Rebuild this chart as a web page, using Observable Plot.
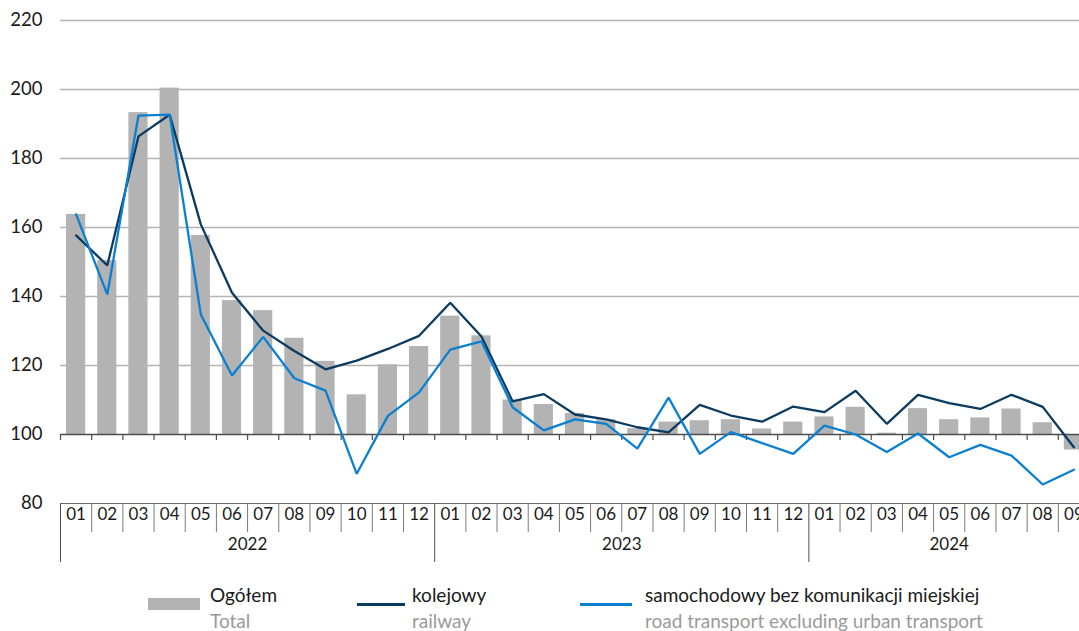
<!DOCTYPE html>
<html>
<head>
<meta charset="utf-8">
<script src="https://cdn.jsdelivr.net/npm/d3@7"></script>
<script src="https://cdn.jsdelivr.net/npm/@observablehq/plot@0.6"></script>
<style>
  html, body { margin: 0; padding: 0; background: #fff; overflow: hidden; width: 1079px; height: 631px; }
  body { font-family: Lato, "Noto Sans", sans-serif; position: relative; }
  #chart { position: absolute; left: 0; top: 0; width: 1090px; }
  #chart svg { max-width: none !important; }
  .lg { position: absolute; color: #1a1a1a; font-size: 19px; line-height: 1; white-space: nowrap; }
  .lg .en { color: #9a9a9a; display: block; margin-top: 7px; }
  .sw { position: absolute; }
</style>
</head>
<body>
<div id="chart"></div>
<div class="sw" style="left:148px; top:598px; width:52px; height:12px; background:#b3b3b3;"></div>
<div class="lg" style="left:210px; top:585px;">Ogółem<span class="en">Total</span></div>
<div class="sw" style="left:357px; top:603px; width:48px; height:2.5px; background:#0b3b60;"></div>
<div class="lg" style="left:412px; top:585px;">kolejowy<span class="en">railway</span></div>
<div class="sw" style="left:580px; top:603px; width:52px; height:2.5px; background:#0b7fd0;"></div>
<div class="lg" style="left:645px; top:585px;">samochodowy bez komunikacji miejskiej<span class="en">road transport excluding urban transport</span></div>
<script>
// Month labels (2022-01 .. 2024-09)
const monthLabels = ["01","02","03","04","05","06","07","08","09","10","11","12",
                     "01","02","03","04","05","06","07","08","09","10","11","12",
                     "01","02","03","04","05","06","07","08","09"];
const yearLabels = ["2022", "2023", "2024"];
const yearMonthCounts = [12, 12, 9];

// Ogółem / Total (bars, relative to 100)
const total = [163.8,150.4,193.3,200.4,157.7,138.8,135.9,127.9,121.2,111.5,120.2,125.5,
               134.3,128.6,110.0,108.7,106.1,104.3,101.7,103.6,104.0,104.3,101.6,103.6,
               105.1,107.9,100.4,107.5,104.3,104.8,107.4,103.4,95.5];
// kolejowy / railway
const railway = [157.7,149.0,186.4,192.7,160.9,141.1,130.1,124.2,118.9,121.4,124.8,128.6,
                 138.2,128.4,109.6,111.7,105.8,104.4,102.1,100.6,108.6,105.5,103.7,108.1,
                 106.5,112.7,103.1,111.5,109.1,107.4,111.5,108.0,96.3];
// samochodowy bez komunikacji miejskiej / road transport excluding urban transport
const road = [163.8,140.6,192.4,192.7,134.8,117.1,128.3,116.3,112.7,88.6,105.4,112.2,
              124.6,127.0,107.9,101.2,104.4,103.1,95.9,110.7,94.4,100.7,97.5,94.4,
              102.6,100.0,94.9,100.3,93.4,97.0,93.9,85.5,89.8];

const yTicks = [80, 100, 120, 140, 160, 180, 200, 220];
const baseline = 100;

const data = monthLabels.map((m, i) => ({i, month: m, total: total[i], railway: railway[i], road: road[i]}));
const n = monthLabels.length;

// year boundaries and centers
const yearStarts = [];
let acc = 0;
for (const c of yearMonthCounts) { yearStarts.push(acc); acc += c; }
const yearData = yearLabels.map((y, k) => ({label: y, start: yearStarts[k], center: yearStarts[k] + yearMonthCounts[k] / 2}));
const boundaries = d3.range(0, n + 1);
const monthSeps = boundaries.filter(b => !yearStarts.includes(b));

const chart = Plot.plot({
  width: 1090,
  height: 565,
  marginLeft: 60,
  marginRight: 1,
  marginTop: 20,
  marginBottom: 62,
  style: {fontFamily: "Lato, 'Noto Sans', sans-serif", color: "#1a1a1a", background: "transparent", maxWidth: "none"},
  x: {type: "linear", domain: [0, n], axis: null},
  y: {domain: [80, 220], axis: null},
  marks: [
    Plot.ruleY(yTicks.filter(t => t > baseline), {stroke: "#b4b4b4", strokeWidth: 1.5}),
    Plot.axisY(yTicks, {tickSize: 0, tickPadding: 18, fontSize: 18.5, fill: "#1a1a1a", textAnchor: "end"}),
    Plot.rectY(data, {x1: "i", x2: d => d.i + 1, y1: () => baseline, y2: "total", fill: "#b3b3b3", insetLeft: 6, insetRight: 6}),
    Plot.ruleY([baseline], {stroke: "#4d4d4d", strokeWidth: 1.5}),
    Plot.ruleX(boundaries, {x: d => d, y1: () => baseline, y2: () => baseline, insetBottom: -6, stroke: "#4d4d4d", strokeWidth: 1.2}),
    Plot.line(data, {x: d => d.i + 0.5, y: "railway", stroke: "#0b3b60", strokeWidth: 2.3, strokeLinejoin: "miter"}),
    Plot.line(data, {x: d => d.i + 0.5, y: "road", stroke: "#0b7fd0", strokeWidth: 2.3, strokeLinejoin: "miter"}),
    Plot.ruleY([80], {stroke: "#6a6a6a", strokeWidth: 1.2}),
    Plot.ruleX(monthSeps, {x: d => d, y1: () => 80, y2: () => 80, insetBottom: -29, stroke: "#7a7a7a", strokeWidth: 1}),
    Plot.ruleX(yearStarts, {x: d => d, y1: () => 80, y2: () => 80, insetBottom: -59, stroke: "#4d4d4d", strokeWidth: 1}),
    Plot.text(data, {x: d => d.i + 0.5, text: "month", frameAnchor: "bottom", dy: 16, fontSize: 17, fill: "#1a1a1a"}),
    Plot.text(yearData, {x: "center", text: "label", frameAnchor: "bottom", dy: 46, fontSize: 17, fill: "#1a1a1a"})
  ]
});
document.getElementById("chart").appendChild(chart);
</script>
</body>
</html>
